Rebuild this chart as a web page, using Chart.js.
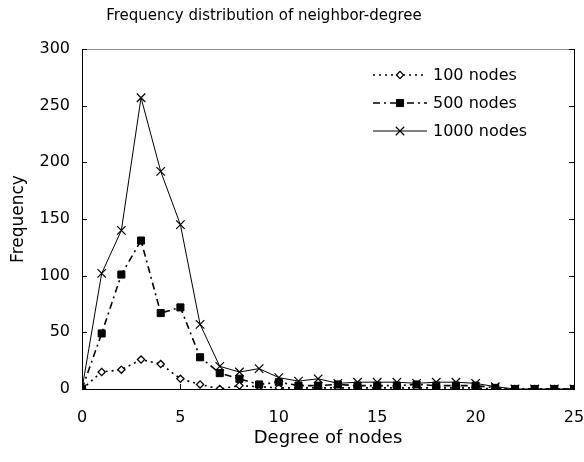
<!DOCTYPE html>
<html>
<head>
<meta charset="utf-8">
<script src="https://cdn.jsdelivr.net/npm/chart.js@4/dist/chart.umd.min.js"></script>
<style>
  html, body { margin: 0; padding: 0; background: #ffffff; }
  #wrap { width: 584px; height: 462px; }
</style>
</head>
<body>
<div id="wrap"><canvas id="c" width="584" height="462"></canvas></div>
<script>
const chartTitle = "Frequency distribution of neighbor-degree";
const xTitle = "Degree of nodes";
const yTitle = "Frequency";
const degrees = [0,1,2,3,4,5,6,7,8,9,10,11,12,13,14,15,16,17,18,19,20,21,22,23,24,25];
const seriesNames = ["100 nodes", "500 nodes", "1000 nodes"];
const nodes100  = [0,15,17,26,22,9,4,0,3,2,1,1,1,1,1,1,1,1,1,1,1,0,0,0,0,0];
const nodes500  = [0,49,101,131,67,72,28,14,9,4,6,3,3,4,3,3,3,4,3,3,3,1,0,0,0,0];
const nodes1000 = [0,102,140,257,192,145,57,20,15,18,10,7,9,5,6,6,6,5,6,6,5,2,0,0,0,0];
const yTicks = [0,50,100,150,200,250,300];
const xTicks = [0,5,10,15,20,25];

const FONT = "'DejaVu Sans', 'Liberation Sans', Arial, sans-serif";

function pts(arr) { return degrees.map((d, i) => ({x: d, y: arr[i]})); }

const datasets = [
  { label: seriesNames[0], data: pts(nodes100), borderColor: '#000', borderWidth: 1.6,
    borderDash: [2,4], pointStyle: 'rectRot', pointRadius: 3.6, pointBorderWidth: 1.3,
    pointBackgroundColor: '#fff', pointBorderColor: '#000', order: 3 },
  { label: seriesNames[1], data: pts(nodes500), borderColor: '#000', borderWidth: 1.6,
    borderDash: [7,4,2,4], pointStyle: 'rect', pointRadius: 5, pointBorderWidth: 1,
    pointBackgroundColor: '#000', pointBorderColor: '#000', order: 2 },
  { label: seriesNames[2], data: pts(nodes1000), borderColor: '#000', borderWidth: 1,
    borderDash: [], pointStyle: 'crossRot', pointRadius: 6, pointBorderWidth: 1.2,
    pointBackgroundColor: '#000', pointBorderColor: '#000', order: 1 }
];

const framePlugin = {
  id: 'frame',
  beforeDatasetsDraw(chart) {
    const {ctx, chartArea: a, scales: {x, y}} = chart;
    ctx.save();
    ctx.lineWidth = 1;
    ctx.strokeStyle = '#8c8c8c';
    ctx.beginPath(); ctx.moveTo(a.left, a.top + 0.5); ctx.lineTo(a.right, a.top + 0.5); ctx.stroke();
    ctx.strokeStyle = '#000';
    ctx.beginPath();
    ctx.moveTo(a.left + 0.5, a.top); ctx.lineTo(a.left + 0.5, a.bottom);
    ctx.moveTo(a.left, a.bottom + 0.5); ctx.lineTo(a.right + 1, a.bottom + 0.5);
    ctx.moveTo(a.right + 0.5, a.top); ctx.lineTo(a.right + 0.5, a.bottom);
    yTicks.forEach(v => {
      const py = Math.round(y.getPixelForValue(v)) + 0.5;
      ctx.moveTo(a.left, py); ctx.lineTo(a.left + 5, py);
      ctx.moveTo(a.right, py); ctx.lineTo(a.right - 5, py);
    });
    xTicks.forEach(v => {
      const px = Math.round(x.getPixelForValue(v)) + 0.5;
      ctx.moveTo(px, a.bottom); ctx.lineTo(px, a.bottom - 5);
    });
    ctx.stroke();
    ctx.restore();
  },
  afterDraw(chart) {
    const {ctx} = chart;
    ctx.save();
    ctx.fillStyle = '#000';
    ctx.font = '15px ' + FONT;
    ctx.textAlign = 'center';
    ctx.textBaseline = 'middle';
    ctx.fillText(chartTitle, 264, 16);
    // legend
    const rows = [75, 103, 131];
    chart.data.datasets.forEach((ds, i) => {
      const ry = rows[i];
      ctx.save();
      ctx.strokeStyle = ds.borderColor;
      ctx.lineWidth = ds.borderWidth;
      ctx.setLineDash(ds.borderDash || []);
      ctx.beginPath(); ctx.moveTo(373, ry); ctx.lineTo(427, ry); ctx.stroke();
      ctx.setLineDash([]);
      ctx.fillStyle = ds.pointBackgroundColor;
      ctx.strokeStyle = ds.pointBorderColor;
      ctx.lineWidth = ds.pointBorderWidth;
      Chart.helpers.drawPoint(ctx, {pointStyle: ds.pointStyle, radius: ds.pointRadius, borderWidth: ds.pointBorderWidth, rotation: 0}, 400, ry);
      ctx.restore();
      ctx.fillStyle = '#000';
      ctx.font = '16px ' + FONT;
      ctx.textAlign = 'left';
      ctx.textBaseline = 'middle';
      ctx.fillText(ds.label, 433, ry + 1);
    });
    ctx.restore();
  }
};

new Chart(document.getElementById('c'), {
  type: 'line',
  data: { datasets },
  options: {
    responsive: false,
    animation: false,
    devicePixelRatio: 1,
    layout: { padding: { top: 49, right: 10, left: 0, bottom: 0 } },
    plugins: { legend: { display: false }, title: { display: false }, tooltip: { enabled: false } },
    elements: { line: { tension: 0, fill: false } },
    scales: {
      x: {
        type: 'linear', min: 0, max: 25,
        afterBuildTicks(s) { s.ticks = xTicks.map(v => ({value: v})); },
        afterFit(s) { s.height = 73; s.paddingLeft = 0; s.paddingRight = 0; },
        grid: { display: false, drawTicks: false },
        border: { display: false },
        ticks: { color: '#000', font: { family: FONT, size: 16 }, padding: 19, maxRotation: 0 },
        title: { display: true, text: xTitle, color: '#000', font: { family: FONT, size: 18 }, padding: { top: 0, bottom: 13 } }
      },
      y: {
        type: 'linear', min: 0, max: 300,
        afterBuildTicks(s) { s.ticks = yTicks.map(v => ({value: v})); },
        afterFit(s) { s.width = 82; s.paddingTop = 0; s.paddingBottom = 0; },
        grid: { display: false, drawTicks: false },
        border: { display: false },
        ticks: { color: '#000', font: { family: FONT, size: 16 }, padding: 12 },
        title: { display: true, text: yTitle, color: '#000', font: { family: FONT, size: 17 }, padding: { top: 8, bottom: 0 } }
      }
    }
  },
  plugins: [framePlugin]
});
</script>
</body>
</html>
